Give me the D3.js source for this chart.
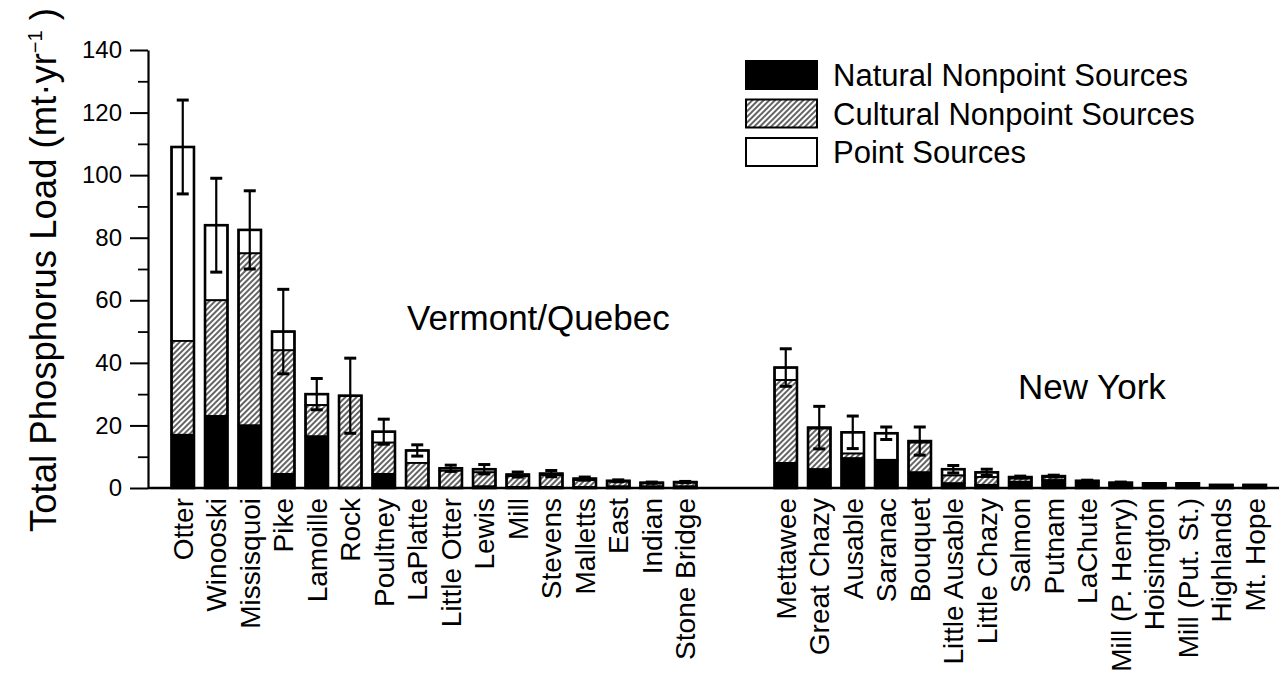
<!DOCTYPE html>
<html>
<head>
<meta charset="utf-8">
<script src="https://cdn.jsdelivr.net/npm/d3@7"></script>
<style>
    body { margin: 0; background: #fff; }
    svg { display: block; font-family: "Liberation Sans", Arial, sans-serif; }
</style>
</head>
<body>
<svg id="chart" width="1279" height="677"></svg>
<script>
// river names, Vermont/Quebec then New York
const vtRivers = ["Otter", "Winooski", "Missisquoi", "Pike", "Lamoille", "Rock", "Poultney", "LaPlatte",
    "Little Otter", "Lewis", "Mill", "Stevens", "Malletts", "East", "Indian", "Stone Bridge"];
const nyRivers = ["Mettawee", "Great Chazy", "Ausable", "Saranac", "Bouquet", "Little Ausable", "Little Chazy",
    "Salmon", "Putnam", "LaChute", "Mill (P. Henry)", "Hoisington", "Mill (Put. St.)", "Highlands", "Mt. Hope"];

// loads in mt/yr, same order as the names
const vtNatural  = [17, 23, 20, 4.5, 16.5, 0, 4.5, 0, 0, 0.5, 0.3, 0.3, 0.3, 0.5, 0.5, 0.5];
const vtCultural = [30, 37, 55, 39.5, 10, 29.5, 10, 8, 5.5, 4.5, 3.5, 3.8, 2.2, 1.5, 1, 1.2];
const vtPoint    = [62, 24, 7.5, 6, 3.5, 0, 3.5, 4, 0.8, 1, 0.5, 0.5, 0.5, 0.3, 0.2, 0.2];
const vtError    = [15, 15, 12.5, 13.5, 5, 12, 4, 1.8, 1, 1.5, 0.8, 1, 0.5, 0.3, 0.2, 0.2];

const nyNatural  = [8, 6, 9.5, 8.5, 5, 1.5, 1, 2, 2.5, 1.5, 1.2, 1, 1, 0.7, 0.7];
const nyCultural = [26.5, 13, 1.5, 0.5, 9.5, 2.5, 2.5, 1, 1, 0.5, 0.3, 0.3, 0.3, 0.2, 0.2];
const nyPoint    = [4, 0.3, 6.8, 8.5, 0.5, 2, 1.5, 0.5, 0.3, 0.3, 0.2, 0.2, 0.2, 0.1, 0.1];
const nyError    = [6, 6.8, 5.2, 2, 4.5, 1.2, 1, 0.3, 0.3, 0.2, 0.2, 0, 0, 0, 0];

const yTicks = [0, 20, 40, 60, 80, 100, 120, 140];
const legendItems = ["Natural Nonpoint Sources", "Cultural Nonpoint Sources", "Point Sources"];

// build rows, with two empty slots between the groups
const gapSlots = ["_gap1", "_gap2"];
const rows = [];
vtRivers.forEach((name, i) => rows.push({name, nat: vtNatural[i], cul: vtCultural[i], pt: vtPoint[i], err: vtError[i]}));
nyRivers.forEach((name, i) => rows.push({name, nat: nyNatural[i], cul: nyCultural[i], pt: nyPoint[i], err: nyError[i]}));

const svg = d3.select("#chart");

const x = d3.scaleBand()
    .domain([...vtRivers, ...gapSlots, ...nyRivers])
    .range([166, 1271.5])
    .paddingInner(0.33)
    .paddingOuter(0.165);

const y = d3.scaleLinear().domain([0, 140]).range([488, 50]);

// hatch for cultural sources
const defs = svg.append("defs");
defs.append("pattern")
    .attr("id", "hatch")
    .attr("patternUnits", "userSpaceOnUse")
    .attr("width", 4)
    .attr("height", 4)
    .attr("patternTransform", "rotate(45)")
    .call(p => {
        p.append("rect").attr("width", 4).attr("height", 4).attr("fill", "#fff");
        p.append("line")
            .attr("x1", 1).attr("y1", 0).attr("x2", 1).attr("y2", 4)
            .attr("stroke", "#222").attr("stroke-width", 1.4);
    });

// y axis, major and minor ticks
svg.append("g")
    .attr("transform", "translate(148,0)")
    .call(d3.axisLeft(y).tickValues(yTicks).tickSize(18).tickSizeOuter(0).tickPadding(8))
    .call(g => g.select(".domain").attr("stroke-width", 2.2))
    .call(g => g.selectAll(".tick line").attr("stroke-width", 2))
    .call(g => g.selectAll(".tick text")
        .attr("fill", "#000")
        .style("font-size", "24px")
        .style("font-family", "Liberation Sans, Arial, sans-serif"));

svg.append("g")
    .attr("transform", "translate(148,0)")
    .call(d3.axisLeft(y).tickValues(d3.range(10, 140, 20)).tickSize(10).tickFormat(""))
    .call(g => g.select(".domain").remove())
    .call(g => g.selectAll(".tick line").attr("stroke-width", 1.8));

// y title
const title = svg.append("text")
    .attr("transform", `translate(56,${270}) rotate(-90)`)
    .attr("text-anchor", "middle")
    .style("font-size", "36.5px")
    .attr("fill", "#000");
title.append("tspan").text("Total Phosphorus Load (mt\u00b7yr");
title.append("tspan").attr("dy", -14).style("font-size", "20px").text("\u22121");
title.append("tspan").attr("dy", 14).text(" )");

// stacked bars
const bars = svg.append("g")
    .selectAll("g")
    .data(rows)
    .enter()
    .append("g");

bars.append("rect")
    .attr("x", d => x(d.name))
    .attr("width", x.bandwidth())
    .attr("y", d => y(d.nat + d.cul + d.pt))
    .attr("height", d => y(d.nat + d.cul) - y(d.nat + d.cul + d.pt))
    .attr("fill", "#fff")
    .attr("stroke", "#000")
    .attr("stroke-width", 1.8);

bars.append("rect")
    .attr("x", d => x(d.name))
    .attr("width", x.bandwidth())
    .attr("y", d => y(d.nat + d.cul))
    .attr("height", d => y(d.nat) - y(d.nat + d.cul))
    .attr("fill", "url(#hatch)")
    .attr("stroke", "#000")
    .attr("stroke-width", 1.8);

bars.append("rect")
    .attr("x", d => x(d.name))
    .attr("width", x.bandwidth())
    .attr("y", d => y(d.nat))
    .attr("height", d => y(0) - y(d.nat))
    .attr("fill", "#000")
    .attr("stroke", "#000")
    .attr("stroke-width", 1.8);

// outline of the whole bar
bars.append("rect")
    .attr("x", d => x(d.name))
    .attr("width", x.bandwidth())
    .attr("y", d => y(d.nat + d.cul + d.pt))
    .attr("height", d => y(0) - y(d.nat + d.cul + d.pt))
    .attr("fill", "none")
    .attr("stroke", "#000")
    .attr("stroke-width", 2.6);

// error bars
const errs = bars.filter(d => d.err > 0);
const cx = d => x(d.name) + x.bandwidth() / 2;
const tot = d => d.nat + d.cul + d.pt;

errs.append("line")
    .attr("x1", cx).attr("x2", cx)
    .attr("y1", d => y(tot(d) + d.err))
    .attr("y2", d => y(Math.max(0, tot(d) - d.err)))
    .attr("stroke", "#000")
    .attr("stroke-width", 2.2);

errs.append("line")
    .attr("x1", d => cx(d) - 6).attr("x2", d => cx(d) + 6)
    .attr("y1", d => y(tot(d) + d.err))
    .attr("y2", d => y(tot(d) + d.err))
    .attr("stroke", "#000")
    .attr("stroke-width", 3);

errs.append("line")
    .attr("x1", d => cx(d) - 6).attr("x2", d => cx(d) + 6)
    .attr("y1", d => y(Math.max(0, tot(d) - d.err)))
    .attr("y2", d => y(Math.max(0, tot(d) - d.err)))
    .attr("stroke", "#000")
    .attr("stroke-width", 3);

// baseline
svg.append("line")
    .attr("x1", 148).attr("x2", 1279)
    .attr("y1", y(0)).attr("y2", y(0))
    .attr("stroke", "#000")
    .attr("stroke-width", 2.6);

// river labels
svg.append("g")
    .selectAll("text")
    .data(rows)
    .enter()
    .append("text")
    .attr("transform", d => `translate(${cx(d) + 10},498) rotate(-90)`)
    .attr("text-anchor", "end")
    .style("font-size", "28px")
    .attr("fill", "#000")
    .text(d => d.name);

// group labels
svg.append("text")
    .attr("x", 407).attr("y", 330)
    .style("font-size", "35px")
    .text("Vermont/Quebec");

svg.append("text")
    .attr("x", 1018).attr("y", 399)
    .style("font-size", "35px")
    .text("New York");

// legend
const legendFills = ["#000", "url(#hatch)", "#fff"];
const legend = svg.append("g")
    .selectAll("g")
    .data(legendItems)
    .enter()
    .append("g")
    .attr("transform", (d, i) => `translate(746,${61 + i * 38.5})`);

legend.append("rect")
    .attr("width", 71)
    .attr("height", 28)
    .attr("fill", (d, i) => legendFills[i])
    .attr("stroke", "#000")
    .attr("stroke-width", 2);

legend.append("text")
    .attr("x", 87)
    .attr("y", 25)
    .style("font-size", "31px")
    .text(d => d);
</script>
</body>
</html>
